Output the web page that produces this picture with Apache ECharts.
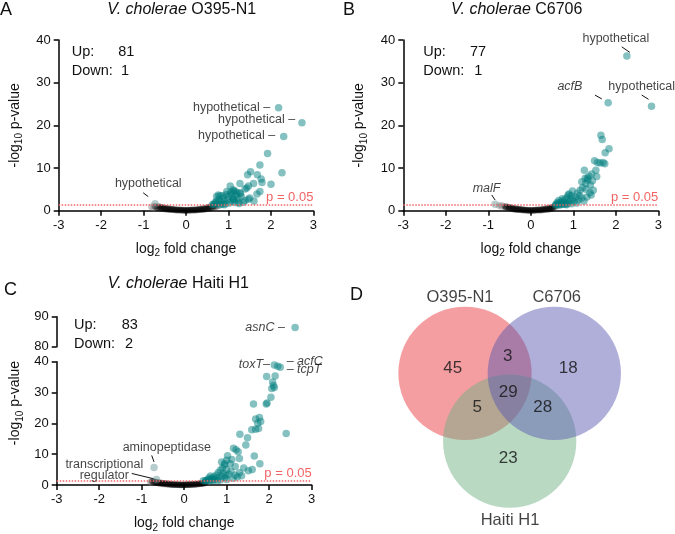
<!DOCTYPE html>
<html><head><meta charset="utf-8">
<script src="https://cdn.jsdelivr.net/npm/echarts@6/dist/echarts.min.js"></script>
<style>html,body{margin:0;padding:0;background:#fff}#c{width:675px;height:534px}</style>
</head><body><div id="c"></div>
<script>
// ---------------- DATA ----------------
const xTicks = [-3,-2,-1,0,1,2,3];
const pThreshold = 1.3; // -log10(0.05)

// Panel A: V. cholerae O395-N1
const aUpCount = 81, aDownCount = 1;
const aUp = [[2.18,24.1],[2.73,20.6],[2.30,17.4],[1.92,13.4],[1.74,10.7],[1.52,9.1],[2.26,8.9],[1.45,8.4],[1.68,8.4],[1.77,7.4],[1.79,6.6],[1.59,6.4],[2.0,6.2],[1.27,6.4],[1.04,5.8],[1.47,5.8],[1.11,4.9],[1.43,5.3],[0.86,3.5],[0.76,3.7],[1.67,3.9],[1.74,4.5],[1.39,2.4],[1.47,2.7],[1.23,1.9],[1.12,2.7],[1.27,4.2],[1.12,4.5],[1.39,5.1],[0.8,3.5],[0.72,3.3],[1.15,4.6],[1.2,4.2],[1.05,4.3],[0.95,3.8],[1.3,3.3],[1.22,2.8],[1.1,3.0],[0.98,2.6],[0.9,2.2],[0.82,2.0],[0.75,1.8],[0.7,1.6],[0.65,1.5],[0.68,1.9],[0.78,2.6],[0.88,3.0],[1.0,3.4],[1.08,2.2],[1.15,1.9],[1.25,1.7],[1.35,2.0],[0.93,1.6],[1.02,1.8],[0.85,1.5],[0.72,2.3],[0.62,1.4],[1.18,3.6],[1.28,4.0],[0.96,4.5],[1.06,3.9],[1.5,3.0],[1.6,2.3],[1.12,2.6],[0.8,1.4],[0.9,1.4]];
const aDown = [[-0.73,1.6]];
const aGray = [[-0.82,0.9],[-0.78,0.6],[-0.75,1.1],[0.72,0.9],[0.75,1.1]];
const aNs = [[-0.72,0.9],[-0.68,0.7],[-0.65,1.0],[-0.62,0.6],[-0.6,0.85],[-0.57,0.5],[-0.55,0.75],[-0.52,0.4],[-0.5,0.65],[-0.47,0.35],[-0.45,0.55],[-0.42,0.3],[-0.4,0.45],[-0.37,0.25],[-0.35,0.4],[-0.32,0.2],[-0.3,0.35],[-0.27,0.15],[-0.25,0.3],[-0.22,0.12],[-0.2,0.25],[-0.17,0.1],[-0.15,0.2],[-0.12,0.08],[-0.1,0.18],[-0.07,0.05],[-0.05,0.15],[-0.02,0.05],[0,0.12],[0.02,0.04],[0.05,0.15],[0.07,0.06],[0.1,0.18],[0.12,0.08],[0.15,0.2],[0.17,0.1],[0.2,0.25],[0.22,0.12],[0.25,0.3],[0.27,0.15],[0.3,0.35],[0.32,0.2],[0.35,0.42],[0.37,0.25],[0.4,0.5],[0.42,0.3],[0.45,0.6],[0.47,0.38],[0.5,0.7],[0.52,0.45],[0.55,0.85],[0.57,0.55],[0.6,1.0],[0.62,0.7],[0.65,1.15],[0.68,0.9]];
const aNotes = [
  {text:'hypothetical –', at:[1.98,24.1], align:'right'},
  {text:'hypothetical –', at:[2.57,21.4], align:'right'},
  {text:'hypothetical –', at:[2.10,17.7], align:'right'},
  {text:'hypothetical', at:[-0.89,6.3], align:'center'}
];
const aLeaders = [[[-1.01,4.2],[-0.89,3.3]]];

// Panel B: V. cholerae C6706
const bUpCount = 77, bDownCount = 1;
const bUp = [[2.26,36.25],[1.82,25.3],[2.84,24.5],[1.65,17.7],[1.68,16.7],[1.84,14.5],[1.75,13.6],[1.50,11.7],[1.57,11.3],[1.63,11.2],[1.70,11.3],[1.74,11.0],[1.26,9.5],[1.53,9.5],[1.43,8.6],[1.37,8.1],[1.34,7.2],[1.29,6.4],[1.45,7.0],[1.40,6.0],[1.22,5.4],[1.39,4.2],[1.47,4.8],[1.42,3.7],[1.16,4.8],[0.98,4.6],[0.88,3.7],[1.33,7.6],[1.1,4.1],[0.95,3.5],[0.9,3.9],[1.05,3.2],[0.85,3.1],[0.8,2.6],[0.75,2.2],[0.7,2.0],[0.65,1.7],[0.6,1.5],[0.62,1.9],[0.68,1.4],[0.72,1.6],[0.78,1.8],[0.82,1.5],[0.88,2.0],[0.92,2.4],[0.98,2.8],[1.02,2.2],[1.12,2.5],[1.2,3.0],[1.25,2.3],[0.58,1.35],[0.66,2.4],[0.74,2.8],[0.84,1.4],[0.96,1.6],[1.08,1.8],[1.15,3.5],[1.3,5.0],[1.32,3.2],[1.2,6.8],[1.28,7.6],[1.55,8.0],[0.7,1.4],[0.76,1.5],[0.64,1.4],[0.86,1.7]];
const bDown = [[-0.84,1.5]];
const bGray = [[-0.75,1.2],[-0.7,1.0],[-0.68,1.3],[-0.62,0.9],[0.58,1.1],[0.6,0.9]];
const bNs = [[-0.6,1.0],[-0.58,0.75],[-0.55,0.9],[-0.52,0.65],[-0.5,0.8],[-0.47,0.5],[-0.45,0.7],[-0.42,0.4],[-0.4,0.6],[-0.37,0.3],[-0.35,0.5],[-0.32,0.25],[-0.3,0.4],[-0.27,0.2],[-0.25,0.32],[-0.22,0.15],[-0.2,0.27],[-0.17,0.1],[-0.15,0.2],[-0.12,0.08],[-0.1,0.15],[-0.07,0.05],[-0.05,0.12],[-0.02,0.04],[0,0.1],[0.03,0.05],[0.05,0.13],[0.08,0.06],[0.1,0.16],[0.13,0.08],[0.15,0.2],[0.18,0.1],[0.2,0.25],[0.23,0.13],[0.25,0.3],[0.28,0.18],[0.3,0.38],[0.33,0.22],[0.35,0.45],[0.38,0.28],[0.4,0.55],[0.43,0.35],[0.45,0.65],[0.48,0.45],[0.5,0.8],[0.52,0.55],[0.55,1.0]];
const bNotes = [
  {text:'hypothetical', at:[2.0,40.4], align:'center'},
  {text:'{i|acfB}', at:[0.92,29.2], align:'center'},
  {text:'hypothetical', at:[2.61,29.2], align:'center'},
  {text:'{i|malF}', at:[-1.04,5.25], align:'center'}
];
const bLeaders = [[[2.14,38.4],[2.33,37.1]],[[1.51,27.1],[1.67,26.2]],[[2.61,27.1],[2.77,26.1]],[[-0.92,3.7],[-0.84,2.5]]];

// Panel C: V. cholerae Haiti H1
const cUpCount = 83, cDownCount = 2;
const cUpHigh = [[2.61,86.4]];
const cUp = [[2.12,38.9],[2.2,38.5],[2.26,38.2],[1.94,35.2],[2.14,35.4],[2.08,33.4],[2.1,32.3],[2.06,31.3],[2.12,31.6],[2.04,28.5],[1.93,26.3],[1.95,26.6],[1.63,26.3],[1.77,21.9],[1.68,21.4],[1.73,20.0],[1.80,20.6],[1.59,17.9],[1.75,18.3],[1.68,18.1],[2.40,16.7],[1.31,16.5],[1.49,15.3],[1.45,13.0],[1.16,11.9],[1.22,11.4],[1.27,10.8],[1.65,9.4],[1.02,9.5],[1.12,8.3],[1.30,8.6],[1.0,8.0],[1.08,6.9],[1.78,6.9],[1.51,4.6],[1.2,6.0],[0.95,6.5],[0.9,5.5],[1.0,5.0],[1.1,4.5],[0.85,4.8],[0.8,4.0],[0.92,3.8],[1.05,3.5],[1.2,3.2],[1.3,4.0],[1.4,5.5],[0.75,3.2],[0.7,2.6],[0.65,2.2],[0.6,1.8],[0.55,1.6],[0.5,1.4],[0.62,2.9],[0.72,1.9],[0.8,2.4],[0.88,2.9],[0.96,2.4],[1.0,1.8],[0.85,1.6],[0.78,1.5],[0.68,1.5],[1.15,2.2],[1.25,2.6],[0.58,2.3],[0.45,1.4],[0.98,3.1],[1.35,3.0],[1.6,5.0],[0.88,7.5],[0.95,7.0],[0.52,1.5],[0.6,1.4],[0.66,1.6]];
const cDown = [[-0.71,5.65],[-0.65,1.8]];
const cGray = [[-0.8,1.0],[-0.78,0.7],[-0.74,1.3],[0.52,0.9],[0.55,1.1]];
const cNs = [[-0.75,1.2],[-0.72,0.9],[-0.68,1.0],[-0.65,0.7],[-0.62,0.85],[-0.6,0.55],[-0.57,0.75],[-0.55,0.45],[-0.52,0.65],[-0.5,0.35],[-0.47,0.55],[-0.45,0.3],[-0.42,0.45],[-0.4,0.22],[-0.37,0.38],[-0.35,0.18],[-0.32,0.3],[-0.3,0.12],[-0.27,0.25],[-0.25,0.1],[-0.22,0.2],[-0.2,0.06],[-0.17,0.15],[-0.15,0.05],[-0.12,0.12],[-0.1,0.04],[-0.07,0.1],[-0.05,0.03],[-0.02,0.08],[0,0.03],[0.03,0.1],[0.05,0.05],[0.08,0.13],[0.1,0.07],[0.13,0.17],[0.15,0.1],[0.18,0.22],[0.2,0.14],[0.23,0.28],[0.25,0.2],[0.28,0.35],[0.3,0.25],[0.33,0.42],[0.35,0.32],[0.38,0.5],[0.4,0.4],[0.43,0.6],[0.45,0.5],[0.48,0.75],[0.5,0.65]];
const cNotes = [
  {text:'{i|toxT}–', at:[2.02,39.2], align:'right'},
  {text:'– {i|acfC}', at:[2.41,40.2], align:'left'},
  {text:'– {i|tcpT}', at:[2.41,37.5], align:'left'},
  {text:'aminopeptidase', at:[-0.41,12.0], align:'center'},
  {text:'transcriptional\nregulator', at:[-1.88,4.8], align:'center'}
];
const cNotesHigh = [{text:'{i|asnC} –', at:[2.37,86.5], align:'right'}];
const cLeaders = [[[-0.765,9.6],[-0.71,7.5]],[[-1.235,3.74],[-0.727,2.05]]];

// Panel D: Venn
const vennSets = ['O395-N1','C6706','Haiti H1'];
const vennCounts = [45,18,23,3,5,28,29]; // O only, C only, H only, O∩C, O∩H, C∩H, all
const vennColors = ['rgba(233,53,60,0.6)','rgba(88,88,175,0.6)','rgba(110,175,130,0.6)'];
const vennDrawOrder = [0,2,1];
const vennLayout = {
  circles: [[85,83.3],[174.3,83.3],[129.7,151.2]],
  diameter: 133.3,
  countPos: [[72.7,78.3],[188.3,78.3],[128.3,168.3],[127.7,66.7],[97.3,117.3],[162.7,117.3],[128.3,102.7]],
  setPos: [[80,7],[176.7,7],[130,230]]
};

// ---------------- STYLE ----------------
const FONT = 'Liberation Sans, Arial, Helvetica, sans-serif';
const INK = '#111';
const TEAL = 'rgba(0,125,125,0.6)';
const TEAL_GRAY = 'rgba(90,140,140,0.55)';
const GRAY = 'rgba(120,120,120,0.45)';
const BLACK = 'rgba(0,0,0,0.45)';
const RED = '#F26464';
const italicRich = {i:{fontStyle:'italic', fontFamily:FONT, fontSize:12.5, color:INK}};

function xAxisFor(gi, show){
  return {
    type:'value', gridIndex:gi, min:-3, max:3, interval:1, show:show,
    axisLine:{onZero:false, lineStyle:{color:'#000', width:1.5}},
    axisTick:{length:5, lineStyle:{color:'#000', width:1.5}},
    splitLine:{show:false},
    axisLabel:{fontSize:13, color:INK, fontFamily:FONT, margin:8},
    name: show ? '{a|log}{s|2}{a| fold change}' : '',
    nameLocation:'middle', nameGap:28,
    nameTextStyle:{fontSize:14, color:INK, fontFamily:FONT, rich:{a:{fontSize:14, fontFamily:FONT, color:INK, lineHeight:20}, s:{fontSize:10, fontFamily:FONT, color:INK, verticalAlign:'bottom', lineHeight:10}}}
  };
}
function yAxisFor(gi, min, max, interval, name){
  return {
    type:'value', gridIndex:gi, min:min, max:max, interval:interval,
    axisLine:{show:true, onZero:false, lineStyle:{color:'#000', width:1.5}},
    axisTick:{show:true, length:5, lineStyle:{color:'#000', width:1.5}},
    splitLine:{show:false},
    axisLabel:{fontSize:13, color:INK, fontFamily:FONT, margin:8},
    name: name || '', nameLocation:'middle', nameGap:34,
    nameTextStyle:{fontSize:14, color:INK, fontFamily:FONT, rich:{a:{fontSize:14, fontFamily:FONT, color:INK, lineHeight:20}, s:{fontSize:10, fontFamily:FONT, color:INK, verticalAlign:'bottom', lineHeight:10}}}
  };
}
const yName = '{a|-log}{s|10}{a| p-value}';

function scatter(gi, data, color, size, extra){
  return Object.assign({type:'scatter', xAxisIndex:gi, yAxisIndex:gi, data:data, symbolSize:size||7.5, itemStyle:{color:color}, silent:true}, extra||{});
}
function notes(gi, list){
  return {
    type:'scatter', xAxisIndex:gi, yAxisIndex:gi, symbolSize:0, clip:false, silent:true, z:5,
    data: list.map(n => ({value:n.at, name:n.text, label:{align:n.align}})),
    label:{show:true, position:'inside', formatter:'{b}', verticalAlign:'middle', fontSize:12.5, lineHeight:11, color:INK, fontFamily:FONT, rich:italicRich}
  };
}
function leaders(gi, list){
  return {type:'lines', coordinateSystem:'cartesian2d', xAxisIndex:gi, yAxisIndex:gi, silent:true,
    data:list.map(c => ({coords:c})), lineStyle:{color:'#111', width:1, opacity:1}};
}
function pLine(gi){
  return {type:'scatter', xAxisIndex:gi, yAxisIndex:gi, data:[], silent:true,
    markLine:{silent:true, symbol:'none', animation:false,
      lineStyle:{type:'dotted', color:RED, width:1.5},
      label:{show:true, position:'insideEndTop', formatter:'p = 0.05', color:RED, fontSize:13, fontFamily:FONT, distance:[0,1]},
      data:[{yAxis:pThreshold}]}};
}

const series = [];
[[0,aNs,aGray,aDown,aUp,aNotes,aLeaders],[1,bNs,bGray,bDown,bUp,bNotes,bLeaders],[2,cNs,cGray,cDown,cUp,cNotes,cLeaders]].forEach(p => {
  const [gi, ns, gray, down, up, nt, ld] = p;
  series.push(pLine(gi));
  series.push(scatter(gi, gray, GRAY, 6.5));
  series.push(scatter(gi, ns, BLACK, 6.5));
  series.push(scatter(gi, down, TEAL_GRAY, 7.5));
  series.push(scatter(gi, up, TEAL, 7.5));
  series.push(notes(gi, nt));
  series.push(leaders(gi, ld));
});
series.push(scatter(3, cUpHigh, TEAL, 7.5));
series.push(notes(3, cNotesHigh));

// Venn
series.push({type:'scatter', xAxisIndex:4, yAxisIndex:4, silent:true, symbolSize:vennLayout.diameter,
  data: vennDrawOrder.map(i => ({value:vennLayout.circles[i], itemStyle:{color:vennColors[i]}}))});
series.push({type:'scatter', xAxisIndex:4, yAxisIndex:4, silent:true, symbolSize:0, z:5,
  data: vennCounts.map((v,i) => ({value:vennLayout.countPos[i], name:String(v)})),
  label:{show:true, position:'inside', formatter:'{b}', fontSize:17, color:INK, fontFamily:FONT}});
series.push({type:'scatter', xAxisIndex:4, yAxisIndex:4, silent:true, symbolSize:0, z:5,
  data: vennSets.map((v,i) => ({value:vennLayout.setPos[i], name:v})),
  label:{show:true, position:'inside', formatter:'{b}', fontSize:16.5, color:INK, fontFamily:FONT}});

function gtext(x, y, text, opts){
  return {type:'text', x:x, y:y, silent:true, style:Object.assign({text:text, fontSize:14.5, fontFamily:FONT, fill:INK, align:'left', verticalAlign:'middle'}, opts||{})};
}
const titleRich = {i:{fontStyle:'italic', fontSize:16, fontFamily:FONT, fill:INK, color:INK}};
const graphics = [
  gtext(0, 10, 'A', {fontSize:18}),
  gtext(343, 10, 'B', {fontSize:18}),
  gtext(4, 290, 'C', {fontSize:18}),
  gtext(350, 295, 'D', {fontSize:18}),
  gtext(181.7, 10, '{i|V. cholerae} O395-N1', {align:'center', fontSize:16, rich:titleRich}),
  gtext(516.7, 10, '{i|V. cholerae} C6706', {align:'center', fontSize:16, rich:titleRich}),
  gtext(178.3, 283.3, '{i|V. cholerae} Haiti H1', {align:'center', fontSize:16, rich:titleRich}),
  gtext(71.7, 51.7, 'Up:'), gtext(118.3, 51.7, String(aUpCount)),
  gtext(71.7, 70.7, 'Down:'), gtext(121, 70.7, String(aDownCount)),
  gtext(423.3, 51.7, 'Up:'), gtext(470, 51.7, String(bUpCount)),
  gtext(423.3, 70.7, 'Down:'), gtext(474.3, 70.7, String(bDownCount)),
  gtext(74, 325, 'Up:'), gtext(121.7, 325, String(cUpCount)),
  gtext(74, 344, 'Down:'), gtext(125, 344, String(cDownCount)),
  {type:'text', x:15, y:403, rotation:Math.PI/2, silent:true, style:{text:'{a|-log}{s|10}{a| p-value}', align:'center', verticalAlign:'middle', fontSize:14, fontFamily:FONT, fill:INK,
    rich:{a:{fontSize:14, fontFamily:FONT, fill:INK, lineHeight:20}, s:{fontSize:10, fontFamily:FONT, fill:INK, verticalAlign:'bottom', lineHeight:10}}}}
];

const option = {
  animation:false,
  backgroundColor:'#fff',
  textStyle:{fontFamily:FONT},
  grid:[
    {left:58.7, top:40, width:254.7, height:170.7},
    {left:403.3, top:40, width:255, height:170.7},
    {left:56.7, top:361.7, width:255, height:125},
    {left:56.7, top:316.7, width:255, height:30},
    {left:380, top:290, width:260, height:240}
  ],
  xAxis:[xAxisFor(0,true), xAxisFor(1,true), xAxisFor(2,true), xAxisFor(3,false),
    {type:'value', gridIndex:4, min:0, max:260, show:false}],
  yAxis:[yAxisFor(0,0,40,10,yName), yAxisFor(1,0,40,10,yName), yAxisFor(2,0,40,10,''), yAxisFor(3,80,90,10,''),
    {type:'value', gridIndex:4, min:0, max:240, inverse:true, show:false}],
  series:series,
  graphic:graphics
};
const chart = echarts.init(document.getElementById('c'));
chart.setOption(option);
</script>
</body></html>
